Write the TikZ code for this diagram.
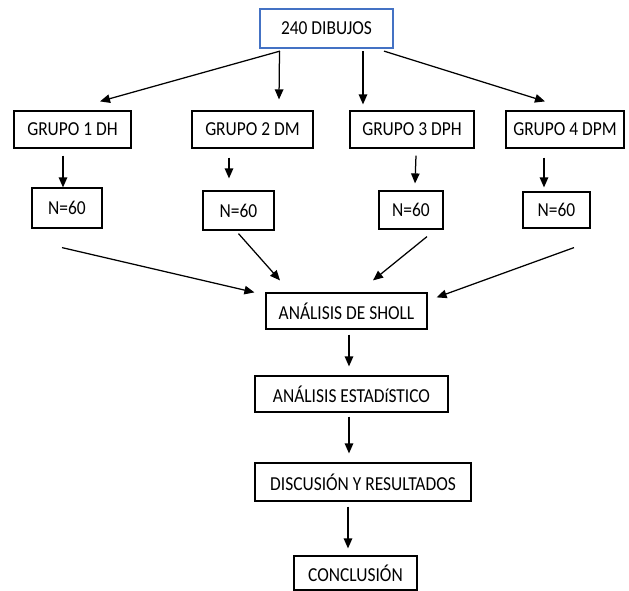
\documentclass[tikz,border=0pt]{standalone}
\usepackage{fontspec}
\setmainfont{Carlito}
\usetikzlibrary{arrows.meta}
\definecolor{azul}{RGB}{68,114,196}
\newcommand{\angosto}[1]{\scalebox{0.88}[1]{#1}}

\begin{document}
\begin{tikzpicture}[x=1pt,y=-1pt,
    caja/.style={draw=black,line width=1.2pt,inner sep=0pt,font=\fontsize{19.8}{22}\selectfont},
    flecha/.style={line width=1.25pt,-{Triangle[length=10pt,width=8.5pt]}}]
    \useasboundingbox (0,0) rectangle (629,591);

% caja inicial
    \node[caja,draw=azul,line width=2.2pt,minimum width=133,minimum height=39] (dibujos) at (326.5,28.5) {\angosto{240 DIBUJOS}\hspace{16pt}};

% grupos
    \node[caja,minimum width=117,minimum height=37] (g1) at (72.5,129.5) {\angosto{GRUPO 1 DH}};
    \node[caja,minimum width=121,minimum height=37] (g2) at (252.5,129.5) {\angosto{GRUPO 2 DM}};
    \node[caja,minimum width=124,minimum height=37] (g3) at (412,129.5) {\angosto{GRUPO 3 DPH}};
    \node[caja,minimum width=118,minimum height=37] (g4) at (565,129.5) {\angosto{GRUPO 4 DPM}};

% tamano de cada grupo
    \node[caja,minimum width=70,minimum height=40] (n1) at (67,208) {\angosto{N=60}};
    \node[caja,minimum width=71,minimum height=39] (n2) at (238.5,210.5) {\angosto{N=60}};
    \node[caja,minimum width=64,minimum height=38] (n3) at (411,210) {\angosto{N=60}};
    \node[caja,minimum width=67,minimum height=36] (n4) at (556.5,210) {\angosto{N=60}};

% pasos siguientes
    \node[caja,minimum width=161,minimum height=36] (sholl) at (346.5,311) {\angosto{ANÁLISIS DE SHOLL}};
    \node[caja,minimum width=193,minimum height=36] (estad) at (351.5,394) {\angosto{ANÁLISIS ESTADíSTICO}};
    \node[caja,minimum width=216,minimum height=38] (disc) at (363,482) {\angosto{DISCUSIÓN Y RESULTADOS}};
    \node[caja,minimum width=123,minimum height=34] (concl) at (355.5,573) {\angosto{CONCLUSIÓN}};

% flechas desde los dibujos
    \draw[flecha] ([xshift=-46.5pt,yshift=-2pt]dibujos.south) -- ([xshift=27.5pt,yshift=9pt]g1.north);
    \draw[flecha] ([xshift=-47pt,yshift=-2pt]dibujos.south) -- ([xshift=26.5pt,yshift=11pt]g2.north);
    \draw[flecha] ([xshift=36.5pt,yshift=-2pt]dibujos.south) -- ([xshift=-49pt,yshift=6pt]g3.north);
    \draw[flecha] ([xshift=57.5pt,yshift=-2pt]dibujos.south) -- ([xshift=-20pt,yshift=9pt]g4.north);

% flechas grupo -> N
    \draw[flecha] ([xshift=-9.5pt,yshift=-7pt]g1.south) -- ([xshift=-4pt]n1.north);
    \draw[flecha] ([xshift=-23.5pt,yshift=-9pt]g2.south) -- ([xshift=-9.5pt,yshift=12pt]n2.north);
    \draw[flecha] ([xshift=4pt,yshift=-7pt]g3.south) -- ([xshift=4pt,yshift=7pt]n3.north);
    \draw[flecha] ([xshift=-21pt,yshift=-9pt]g4.south) -- ([xshift=-12.5pt,yshift=4pt]n4.north);

% flechas N -> analisis de Sholl
    \draw[flecha] ([xshift=-5pt,yshift=-19pt]n1.south) -- ([xshift=-11pt]sholl.north west);
    \draw[flecha] ([yshift=-3pt]n2.south) -- ([xshift=-66.5pt,yshift=12pt]sholl.north);
    \draw[flecha] ([xshift=16pt,yshift=-7pt]n3.south) -- ([xshift=26.5pt,yshift=12pt]sholl.north);
    \draw[flecha] ([xshift=17.5pt,yshift=-19pt]n4.south) -- ([xshift=9pt,yshift=-5pt]sholl.north east);

% cadena final
    \draw[flecha] ([xshift=2.5pt,yshift=-5pt]sholl.south) -- ([xshift=-2.5pt,yshift=9pt]estad.north);
    \draw[flecha] ([xshift=-2.5pt,yshift=-4pt]estad.south) -- ([xshift=-14pt,yshift=9pt]disc.north);
    \draw[flecha] ([xshift=-15pt,yshift=-5pt]disc.south) -- ([xshift=-7.5pt,yshift=7pt]concl.north);
\end{tikzpicture}
\end{document}
